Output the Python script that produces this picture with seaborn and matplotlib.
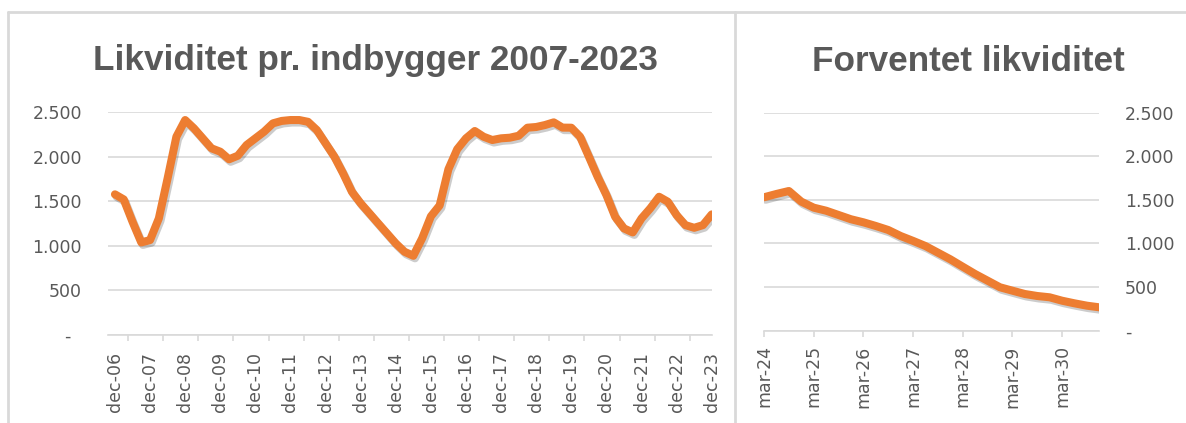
import matplotlib
matplotlib.use("Agg")
import matplotlib.pyplot as plt
import matplotlib.patheffects as pe
from matplotlib.lines import Line2D
from matplotlib.ticker import FuncFormatter
import numpy as np
import pandas as pd
import seaborn as sns

# quarterly liquidity per inhabitant, dec-06 .. dec-23
hist_values = [1577, 1520, 1270, 1038, 1064, 1307, 1756, 2223, 2410, 2317,
               2205, 2093, 2055, 1970, 2010, 2130, 2205, 2280, 2373, 2400,
               2410, 2410, 2390, 2298, 2149, 2000, 1812, 1606, 1476, 1364,
               1251, 1139, 1027, 933, 888, 1083, 1330, 1453, 1859, 2083,
               2205, 2287, 2223, 2186, 2205, 2212, 2234, 2324, 2332, 2354,
               2384, 2325, 2324, 2223, 2000, 1774, 1569, 1325, 1195, 1150,
               1307, 1420, 1550, 1494, 1344, 1232, 1202, 1232, 1352]
hist_labels = ["dec-%02d" % y for y in range(6, 24)]

# expected liquidity, quarterly mar-24 .. dec-30
fc_values = [1530, 1568, 1602, 1480, 1411, 1376, 1327, 1278, 1243, 1201,
             1155, 1086, 1030, 971, 895, 819, 734, 650, 574, 498,
             459, 421, 398, 383, 344, 314, 287, 268]
fc_labels = ["mar-%02d" % y for y in range(24, 31)]

y_ticks = [0, 500, 1000, 1500, 2000, 2500]

ORANGE = "#ED7D31"
GRID = "#D9D9D9"
TXT = "#595959"

sns.set_style("white")
plt.rcParams["font.family"] = ["DejaVu Sans"]

hist = pd.DataFrame({"q": np.arange(len(hist_values)), "v": hist_values})
fc = pd.DataFrame({"q": np.arange(len(fc_values)), "v": fc_values})

fig = plt.figure(figsize=(11.86, 4.23), dpi=100)
ax1 = fig.add_axes([0.0913, 0.2080, 0.5088, 0.5272])
ax2 = fig.add_axes([0.6442, 0.2182, 0.2827, 0.5154])


def fmt(v, pos, pad=""):
    if v == 0:
        return "-" + pad
    return f"{v:,.0f}".replace(",", ".")


def style(ax, data):
    sns.lineplot(data=data, x="q", y="v", ax=ax, color=ORANGE, linewidth=5.8)
    line = ax.lines[0]
    line.set_solid_joinstyle("round")
    line.set_solid_capstyle("round")
    line.set_path_effects([pe.SimpleLineShadow(offset=(1.2, -1.8), shadow_color="black", alpha=0.2),
                           pe.Normal()])
    ax.set_ylim(0, 2500)
    ax.set_yticks(y_ticks)
    ax.yaxis.grid(True, color=GRID, linewidth=1.2)
    ax.set_axisbelow(True)
    for s in ["top", "left", "right"]:
        ax.spines[s].set_visible(False)
    ax.spines["bottom"].set_color(GRID)
    ax.spines["bottom"].set_linewidth(1.2)
    ax.set_xlabel("")
    ax.set_ylabel("")


# left chart
style(ax1, hist)
ax1.set_xlim(-0.76, len(hist_values) - 1)
ax1.set_xticks(np.arange(0, len(hist_values), 4))
ax1.set_xticklabels(hist_labels, rotation=90, color=TXT, fontsize=12.5)
ax1.set_xticks(list(np.arange(1.5, 66, 4)) + [68], minor=True)
ax1.tick_params(axis="x", which="major", length=0, pad=12)
ax1.tick_params(axis="x", which="minor", length=4, width=1.2, color=GRID, direction="out", bottom=True)
ax1.yaxis.set_major_formatter(FuncFormatter(lambda v, p: fmt(v, p, "  ")))
ax1.tick_params(axis="y", length=0, pad=19, labelsize=12.5, labelcolor=TXT)

# right chart
style(ax2, fc)
ax2.set_xlim(0, len(fc_values) - 1)
ax2.set_xticks(np.arange(0, len(fc_values), 4))
ax2.set_xticklabels(fc_labels, rotation=90, color=TXT, fontsize=12.5)
ax2.tick_params(axis="x", length=4, width=1.2, color=GRID, direction="out", bottom=True, pad=6.5)
ax2.yaxis.tick_right()
ax2.yaxis.set_major_formatter(FuncFormatter(fmt))
ax2.tick_params(axis="y", length=0, pad=18.5, labelsize=12.5, labelcolor=TXT)

# titles
tfont = dict(family=["Liberation Sans", "DejaVu Sans"], weight="bold", size=25.3, color=TXT)
fig.text(0.3166, 0.8345, "Likviditet pr. indbygger 2007-2023", ha="center", va="baseline", **tfont)
fig.text(0.8162, 0.8329, "Forventet likviditet", ha="center", va="baseline", **tfont)

# chart frames
fr = dict(color=GRID, linewidth=2, transform=fig.transFigure)
fig.add_artist(Line2D([0.007, 1.0], [0.9723, 0.9723], **fr))
fig.add_artist(Line2D([0.007, 0.007], [0.0, 0.9723], **fr))
fig.add_artist(Line2D([0.6197, 0.6197], [0.0, 0.9723], **fr))

fig.savefig("out.png", dpi=100)
